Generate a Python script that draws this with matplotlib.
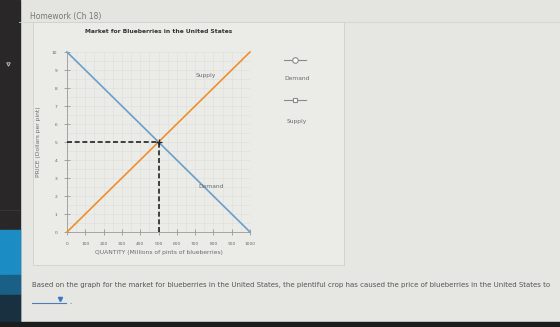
import matplotlib
matplotlib.use("Agg")
import matplotlib.pyplot as plt
from matplotlib.patches import Rectangle
from matplotlib.lines import Line2D

# data
demand_q = [0, 1000]
demand_p = [10, 0]
supply_q = [0, 1000]
supply_p = [0, 10]
eq_q = 500
eq_p = 5
x_ticks = list(range(0, 1001, 100))
y_ticks = list(range(0, 11))

blue = "#6a9fcb"
orange = "#ee8f2f"
grey_txt = "#6b6b6b"

fig = plt.figure(figsize=(5.6, 3.27), dpi=100)
fig.patch.set_facecolor("#e0e0dd")

# page background (pixel coords)
bg = fig.add_axes([0, 0, 1, 1], zorder=0)
bg.set_xlim(0, 560)
bg.set_ylim(327, 0)
bg.axis("off")
bg.add_patch(Rectangle((0, 0), 560, 22, color="#e4e4e1"))
bg.add_patch(Rectangle((19, 22), 541, 300, color="#e6e6e3"))
bg.add_patch(Rectangle((33, 22), 311, 243, facecolor="#ebebe8", edgecolor="#cfcfcc", lw=0.6))
bg.plot([19, 560], [22, 22], color="#d2d2cf", lw=0.6)
bg.add_patch(Rectangle((0, 0), 20, 327, color="#2a2728"))
bg.plot([0, 20], [210, 210], color="#3a3738", lw=0.6)
bg.add_patch(Rectangle((0, 230), 20, 45, color="#1b8cc4"))
bg.add_patch(Rectangle((0, 275), 20, 20, color="#1a5f86"))
bg.add_patch(Rectangle((0, 295), 20, 27, color="#18303f"))
bg.add_patch(Rectangle((0, 322), 560, 5, color="#1c1c1c"))
bg.plot([8], [64], marker="v", ms=2.5, mfc="none", mec="#bbbbbb", mew=0.7)
bg.text(30, 17, "Homework (Ch 18)", color="#777777", fontsize=5.5, va="center")
bg.text(32, 285, "Based on the graph for the market for blueberries in the United States, "
        "the plentiful crop has caused the price of blueberries in the United States to",
        color="#555555", fontsize=5.0, va="center")
bg.plot([32, 66], [303, 303], color="#4a7fb5", lw=0.8)
bg.plot([60], [299], marker="v", color="#3a78c0", ms=3)
bg.text(69, 302, ".", color="#555555", fontsize=5.0, va="center")

# legend widgets
bg.add_line(Line2D([284, 306], [60, 60], color="#8a8a8a", lw=0.8))
bg.plot([295], [60], marker="o", ms=4, mfc="white", mec="#8a8a8a", mew=0.8)
bg.text(297, 79, "Demand", color=grey_txt, fontsize=4.3, ha="center", va="center")
bg.add_line(Line2D([284, 306], [100, 100], color="#8a8a8a", lw=0.8))
bg.plot([295], [100], marker="s", ms=3.5, mfc="white", mec="#8a8a8a", mew=0.8)
bg.text(297, 121, "Supply", color=grey_txt, fontsize=4.3, ha="center", va="center")

# chart
ax = fig.add_axes([67 / 560, 1 - 232 / 327, 183 / 560, 180 / 327], zorder=1)
ax.set_facecolor("none")
ax.plot(demand_q, demand_p, color=blue, lw=1.2, clip_on=False, zorder=3)
ax.plot(supply_q, supply_p, color=orange, lw=1.2, clip_on=False, zorder=3)
ax.plot([0, eq_q], [eq_p, eq_p], color="#222222", lw=1.2, ls=(0, (3, 1.6)), zorder=4)
ax.plot([eq_q, eq_q], [0, eq_p], color="#222222", lw=1.2, ls=(0, (3, 1.6)), zorder=4)
ax.plot([eq_q], [eq_p], marker="+", color="#222222", ms=5, mew=0.9, zorder=5)
ax.text(760, 8.7, "Supply", fontsize=4.3, color=grey_txt, ha="center", va="center")
ax.text(790, 2.5, "Demand", fontsize=4.3, color=grey_txt, ha="center", va="center")

ax.set_xlim(0, 1000)
ax.set_ylim(0, 10)
ax.set_xticks(x_ticks)
ax.set_yticks(y_ticks)
ax.set_xticks(range(0, 1001, 50), minor=True)
ax.set_yticks([i / 2 for i in range(21)], minor=True)
ax.grid(True, which="both", color="#e0e0dc", lw=0.5)
ax.tick_params(which="minor", length=0)
ax.tick_params(which="major", direction="inout", length=4, width=0.5, color="#888888",
               labelsize=3.2, labelcolor="#666666", pad=5)
for s in ["top", "right"]:
    ax.spines[s].set_visible(False)
for s in ["left", "bottom"]:
    ax.spines[s].set_color("#999999")
    ax.spines[s].set_linewidth(0.6)
ax.set_title("Market for Blueberries in the United States", fontsize=4.3,
             fontweight="bold", color="#333333", pad=14)
ax.set_xlabel("QUANTITY (Millions of pints of blueberries)", fontsize=4.3,
              color=grey_txt, labelpad=3)
ax.set_ylabel("PRICE (Dollars per pint)", fontsize=4.3, color=grey_txt, labelpad=8)

fig.savefig("out.png", dpi=100, facecolor=fig.get_facecolor())
